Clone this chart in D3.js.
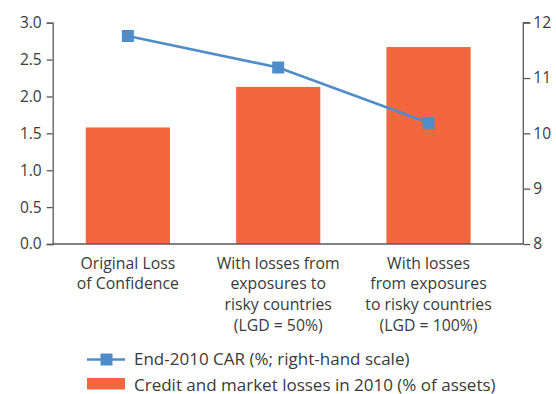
<!DOCTYPE html>
<html><head><meta charset="utf-8">
<script src="https://cdn.jsdelivr.net/npm/d3@7"></script>
<style>body{margin:0;background:#fff}svg{display:block}text{font-family:"Open Sans",sans-serif;fill:#3a3a3a}</style>
</head><body><svg id="c" width="556" height="394"></svg>
<script>
const categories = [
  ["Original Loss", "of Confidence"],
  ["With losses from", "exposures to", "risky countries", "(LGD = 50%)"],
  ["With losses", "from exposures", "to risky countries", "(LGD = 100%)"]
];
const losses = [1.58, 2.13, 2.67];
const car = [11.76, 11.19, 10.19];
const leftTicks = [0, 0.5, 1, 1.5, 2, 2.5, 3];
const rightTicks = [8, 9, 10, 11, 12];
const legendLabels = ["End-2010 CAR (%; right-hand scale)", "Credit and market losses in 2010 (% of assets)"];

const barColor = "#f4663f", lineColor = "#4f8dca", axisColor = "#595959";
const svg = d3.select("#c");
const x0 = 52.7, xR = 523.3, yTop = 22.7, yBot = 244;
const idx = categories.map((d,i)=>i);
const x = d3.scaleBand().domain(idx).range([x0, x0 + 451]).paddingInner(0.44).paddingOuter(0.22);
const yL = d3.scaleLinear().domain([0, 3]).range([yBot, yTop]);
const yR = d3.scaleLinear().domain([8, 12]).range([yBot, yTop]);

// bars
svg.append("g").selectAll("rect").data(losses).join("rect")
  .attr("x", (d,i)=>x(i)).attr("width", x.bandwidth())
  .attr("y", d=>yL(d)).attr("height", d=>yBot - yL(d)).attr("fill", barColor);

// left axis
const gl = svg.append("g").attr("transform", `translate(${x0},0)`)
  .call(d3.axisLeft(yL).tickValues(leftTicks).tickFormat(d3.format(".1f")).tickSize(6).tickPadding(5));
// right axis
const gr = svg.append("g").attr("transform", `translate(${xR},0)`)
  .call(d3.axisRight(yR).tickValues(rightTicks).tickFormat(d3.format("d")).tickSize(7).tickPadding(3));
[gl, gr].forEach(g=>{
  g.select(".domain").attr("stroke", axisColor).attr("stroke-width", 1.3);
  g.selectAll(".tick line").attr("stroke", axisColor).attr("stroke-width", 1.3);
  g.selectAll(".tick text").style("font-size", "15.5px").attr("fill", "#3a3a3a").attr("font-family", null);
});
gr.select(".domain").attr("d", `M7,${yTop}H0V${yBot}`);
// x baseline
svg.append("line").attr("x1", x0).attr("x2", xR).attr("y1", yBot).attr("y2", yBot)
  .attr("stroke", axisColor).attr("stroke-width", 1.3);

// category labels
const cl = svg.append("g").selectAll("text").data(categories).join("text")
  .attr("text-anchor", "middle").style("font-size", "15.8px")
  .attr("transform", (d,i)=>`translate(${x(i)+x.bandwidth()/2},0)`);
cl.selectAll("tspan").data(d=>d).join("tspan").attr("x", 0)
  .attr("y", (d,j)=>268.5 + j*20.7).text(d=>d);

// line
const line = d3.line().x((d,i)=>x(i)+x.bandwidth()/2).y(d=>yR(d));
svg.append("path").datum(car).attr("d", line).attr("fill", "none")
  .attr("stroke", lineColor).attr("stroke-width", 2.6);
svg.append("g").selectAll("rect").data(car).join("rect")
  .attr("x", (d,i)=>x(i)+x.bandwidth()/2 - 6).attr("y", d=>yR(d)-6)
  .attr("width", 12).attr("height", 12).attr("fill", lineColor);

// legend
const lg = svg.append("g");
lg.append("line").attr("x1", 87).attr("x2", 125).attr("y1", 359.5).attr("y2", 359.5)
  .attr("stroke", lineColor).attr("stroke-width", 2.6);
lg.append("rect").attr("x", 100.5).attr("y", 353.5).attr("width", 12).attr("height", 12).attr("fill", lineColor);
lg.append("rect").attr("x", 87).attr("y", 378).attr("width", 38).attr("height", 11.5).attr("fill", barColor);
lg.selectAll("text").data(legendLabels).join("text")
  .attr("x", 134).attr("y", (d,i)=>365.3 + i*25.2).style("font-size", "17px").text(d=>d);
</script></body></html>
